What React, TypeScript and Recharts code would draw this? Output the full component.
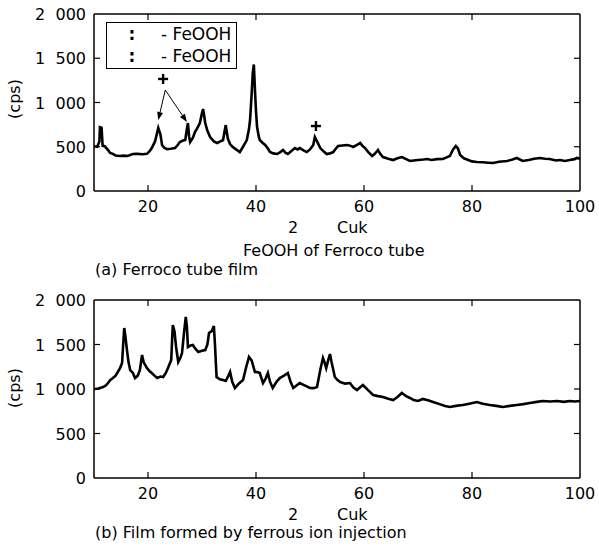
import { LineChart, Line, XAxis, YAxis, ReferenceLine, ReferenceDot } from "recharts";

const xTicks = [20, 40, 60, 80, 100];
const yTicks = [0, 500, 1000, 1500, 2000];
const yTickText: Record<number, string> = { 0: "0", 500: "500", 1000: "1\u2007000", 1500: "1\u2007500", 2000: "2\u2007000" };

// (a) Ferroco tube film
const filmA2Theta = [
  10, 10.6, 11.0, 11.1, 11.4, 11.6, 12, 12.5, 13, 13.5, 14, 14.8, 15.5, 16.2, 17.2, 18, 19, 19.8, 20.3, 20.7,
  21.3, 21.9, 22.3, 22.6, 23, 23.5, 24.2, 25, 25.5, 25.9, 26.5, 26.9, 27.2, 27.4, 27.6, 27.8, 28.3, 28.7, 29.2, 29.6,
  30.0, 30.2, 30.4, 30.6, 31, 31.5, 32.2, 32.8, 33.4, 33.9, 34.2, 34.4, 34.6, 34.8, 35.2, 35.7, 36.3, 37, 37.6, 38.3,
  38.7, 38.9, 39.2, 39.4, 39.6, 39.8, 40, 40.2, 40.5, 40.7, 41.2, 41.7, 42.2, 42.6, 43.2, 43.9, 44.5, 45, 45.5, 45.9,
  46.5, 47.2, 47.7, 48.1, 48.8, 49.4, 50, 50.6, 50.9, 51.3, 51.9, 52.5, 53.1, 53.7, 54.3, 54.8, 55.2, 56, 56.9, 57.5,
  58, 58.7, 59.3, 59.7, 60.2, 60.8, 61.5, 62, 62.6, 63, 63.5, 64.5, 65.4, 66.2, 67, 67.8, 68.5, 69.2, 70, 71,
  71.7, 72.5, 73.5, 74.6, 75.3, 75.9, 76.5, 77, 77.4, 77.8, 78.5, 79.3, 80, 80.9, 82, 83, 83.9, 85, 86.5, 87.5,
  88.3, 89.4, 90.5, 91.5, 92.6, 93.5, 94.4, 95.5, 96.3, 97.2, 98.1, 99, 99.4, 100,
];
const filmACps = [
  505, 500, 560, 720, 715, 510, 505, 470, 430, 420, 400, 395, 400, 395, 418, 420, 415, 420, 450, 485,
  560, 712, 640, 520, 490, 474, 478, 485, 520, 553, 570, 576, 700, 768, 620, 553, 600, 666, 720, 768,
  880, 926, 850, 768, 680, 610, 560, 542, 560, 576, 680, 745, 660, 588, 530, 497, 470, 440, 500, 576,
  700, 802, 1100, 1330, 1430, 1150, 900, 723, 620, 576, 545, 520, 480, 440, 425, 418, 440, 463, 430, 418,
  450, 485, 470, 485, 460, 440, 470, 520, 610, 560, 485, 450, 418, 425, 440, 480, 508, 515, 520, 510,
  497, 520, 542, 510, 485, 440, 395, 420, 463, 420, 384, 365, 350, 370, 384, 360, 339, 345, 350, 355,
  362, 350, 360, 362, 380, 395, 470, 508, 480, 407, 370, 350, 335, 328, 325, 320, 316, 330, 339, 355,
  373, 339, 350, 365, 373, 365, 362, 345, 350, 340, 350, 360, 373, 365,
];

// (b) Film formed by ferrous ion injection
const filmB2Theta = [
  10, 10.8, 11.7, 12.2, 12.6, 13, 13.5, 14, 14.4, 14.8, 15.2, 15.4, 15.6, 15.8, 16.1, 16.4, 16.7, 17.2, 17.6, 18.1,
  18.5, 18.9, 19.2, 19.8, 20.3, 20.7, 21.2, 21.7, 22.3, 22.8, 23.3, 23.7, 24.3, 24.5, 24.6, 24.9, 25.2, 25.6, 26, 26.3,
  26.7, 27, 27.2, 27.4, 27.9, 28.3, 28.8, 29.3, 30, 30.6, 31.0, 31.3, 31.8, 32.2, 32.4, 32.7, 33.3, 33.9, 34.4, 34.9,
  35.2, 35.6, 36.1, 36.8, 37.6, 38.2, 38.7, 39.2, 39.8, 40.3, 40.7, 41.3, 41.8, 42.2, 42.6, 43.1, 43.8, 44.4, 45.2, 45.9,
  46.4, 46.9, 47.5, 48.1, 49, 50, 50.7, 51.3, 51.9, 52.4, 52.7, 53, 53.4, 53.7, 54, 54.6, 55.1, 55.6, 56.5, 57.4,
  58, 58.7, 59.3, 59.8, 60.7, 61.7, 62.6, 63.5, 64.5, 65.4, 66.2, 67, 67.8, 68.5, 69.2, 70, 70.9, 72, 72.8, 74,
  75, 75.9, 77, 78.3, 79.5, 80.9, 82, 83.3, 84.5, 85.7, 87, 88.3, 89.5, 90.7, 92, 93.1, 94.5, 95.7, 97, 98.1,
  99, 100,
];
const filmBCps = [
  1000, 1005, 1022, 1040, 1067, 1100, 1123, 1150, 1191, 1230, 1292, 1500, 1685, 1600, 1438, 1300, 1213, 1180, 1123, 1150,
  1213, 1382, 1300, 1236, 1200, 1180, 1150, 1123, 1140, 1135, 1180, 1236, 1326, 1600, 1719, 1650, 1472, 1303, 1350, 1404,
  1650, 1809, 1700, 1472, 1490, 1494, 1450, 1416, 1430, 1438, 1500, 1629, 1650, 1708, 1500, 1135, 1110, 1101, 1090, 1150,
  1191, 1080, 1011, 1060, 1101, 1250, 1360, 1320, 1191, 1190, 1180, 1067, 1120, 1180, 1080, 1011, 1080, 1123, 1150, 1180,
  1080, 1011, 1040, 1067, 1040, 1011, 1010, 1022, 1213, 1348, 1300, 1236, 1330, 1393, 1300, 1135, 1100, 1078, 1060, 1067,
  1020, 989, 1020, 1045, 990, 933, 920, 910, 890, 876, 910, 955, 920, 899, 875, 865, 888, 870, 854, 830,
  810, 798, 810, 820, 835, 854, 835, 820, 810, 798, 810, 820, 830, 843, 855, 865, 860, 865, 855, 865,
  860, 865,
];

const FONT = "'DejaVu Sans', sans-serif";
const FS = 16;

const BottomTick = ({ x, y, payload }: any) => (
  <g>
    {payload.value < 100 && <line x1={x} y1={y} x2={x} y2={y - 6} stroke="#000" strokeWidth={1.2} />}
    <text x={x} y={y + 21} textAnchor="middle" fontSize={FS} fontFamily={FONT} fill="#000">{payload.value}</text>
  </g>
);
const TopTick = ({ x, y, payload }: any) =>
  payload.value < 100 ? <line x1={x} y1={y} x2={x} y2={y + 6} stroke="#000" strokeWidth={1.2} /> : <g />;
const LeftTick = ({ x, y, payload }: any) => (
  <g>
    {payload.value > 0 && payload.value < 2000 && <line x1={x} y1={y} x2={x + 6} y2={y} stroke="#000" strokeWidth={1.2} />}
    <text x={x - 8} y={y + 6} textAnchor="end" fontSize={FS} fontFamily={FONT} fill="#000">{yTickText[payload.value]}</text>
  </g>
);
const RightTick = ({ x, y, payload }: any) =>
  payload.value > 0 && payload.value < 2000 ? <line x1={x} y1={y} x2={x - 6} y2={y} stroke="#000" strokeWidth={1.2} /> : <g />;

const Arrow = (p: any) => {
  const { x1, y1, x2, y2 } = p;
  const a = Math.atan2(y2 - y1, x2 - x1);
  const L = 8, W = 3;
  const bx = x2 - L * Math.cos(a), by = y2 - L * Math.sin(a);
  const pts = `${x2},${y2} ${bx + W * Math.sin(a)},${by - W * Math.cos(a)} ${bx - W * Math.sin(a)},${by + W * Math.cos(a)}`;
  return (
    <g>
      <line x1={x1} y1={y1} x2={bx} y2={by} stroke="#000" strokeWidth={1} />
      <polygon points={pts} fill="#000" />
    </g>
  );
};

const Plus = ({ cx, cy }: any) => (
  <g stroke="#000" strokeWidth={2.4}>
    <line x1={cx - 5} y1={cy} x2={cx + 5} y2={cy} />
    <line x1={cx} y1={cy - 5} x2={cx} y2={cy + 5} />
  </g>
);

const axisLine = { stroke: "#000", strokeWidth: 1.5 };

function Panel({ rows, height, children }: { rows: { t: number; cps: number }[]; height: number; children?: any }) {
  return (
    <LineChart width={599} height={height} data={rows} margin={{ top: 13, right: 18, bottom: 0, left: 44 }}>
      <XAxis xAxisId="b" dataKey="t" type="number" domain={[10, 100]} ticks={xTicks} height={24}
        tickSize={0} tickMargin={0} tick={BottomTick} axisLine={axisLine} tickLine={false} allowDataOverflow />
      <XAxis xAxisId="t" orientation="top" dataKey="t" type="number" domain={[10, 100]} ticks={xTicks} height={1}
        tickSize={0} tickMargin={0} tick={TopTick} axisLine={axisLine} tickLine={false} allowDataOverflow />
      <YAxis yAxisId="l" type="number" domain={[0, 2000]} ticks={yTicks} width={50}
        tickSize={0} tickMargin={0} tick={LeftTick} axisLine={axisLine} tickLine={false} allowDataOverflow />
      <YAxis yAxisId="r" orientation="right" type="number" domain={[0, 2000]} ticks={yTicks} width={1}
        tickSize={0} tickMargin={0} tick={RightTick} axisLine={axisLine} tickLine={false} allowDataOverflow />
      <Line xAxisId="b" yAxisId="l" dataKey="cps" type="linear" stroke="#000" strokeWidth={2.6}
        strokeLinejoin="miter" dot={false} isAnimationActive={false} />
      {children}
    </LineChart>
  );
}

export default function App() {
  const rowsA = filmA2Theta.map((t, i) => ({ t, cps: filmACps[i] }));
  const rowsB = filmB2Theta.map((t, i) => ({ t, cps: filmBCps[i] }));
  return (
    <div style={{ position: "absolute", left: 0, top: 0, width: 599, height: 546, background: "#fff", fontFamily: FONT }}>
      <div style={{ position: "absolute", left: 0, top: 0 }}>
        <Panel rows={rowsA} height={215}>
          <ReferenceLine xAxisId="b" yAxisId="l" segment={[{ x: 23.2, y: 1141 }, { x: 21.9, y: 802 }]} shape={Arrow} ifOverflow="visible" />
          <ReferenceLine xAxisId="b" yAxisId="l" segment={[{ x: 23.2, y: 1141 }, { x: 27.2, y: 780 }]} shape={Arrow} ifOverflow="visible" />
          <ReferenceDot xAxisId="b" yAxisId="l" x={22.8} y={1266} r={0} shape={Plus} ifOverflow="visible" />
          <ReferenceDot xAxisId="b" yAxisId="l" x={51.1} y={734} r={0} shape={Plus} ifOverflow="visible" />
        </Panel>
      </div>
      <div style={{ position: "absolute", left: 0, top: 286 }}>
        <Panel rows={rowsB} height={216} />
      </div>
      <div style={{ position: "absolute", left: 106, top: 22, width: 129, height: 45, border: "1px solid #000", background: "#fff" }} />
      <svg width={599} height={546} style={{ position: "absolute", left: 0, top: 0, pointerEvents: "none" }}
        fontFamily={FONT} fontSize={FS} fill="#000">
        <text x={132} y={40} textAnchor="middle" fontSize={17} fontWeight="bold">:</text>
        <text x={161} y={40} fontSize={17}>- FeOOH</text>
        <text x={132} y={62} textAnchor="middle" fontSize={17} fontWeight="bold">:</text>
        <text x={161} y={62} fontSize={17}>- FeOOH</text>
        <text transform="translate(20,99) rotate(-90)" textAnchor="middle">(cps)</text>
        <text transform="translate(20,388) rotate(-90)" textAnchor="middle">(cps)</text>
        <text x={293} y={233} textAnchor="middle">2</text>
        <text x={337} y={233}>Cuk</text>
        <text x={243} y={256}>FeOOH of Ferroco tube</text>
        <text x={95} y={275}>(a) Ferroco tube film</text>
        <text x={293} y={520} textAnchor="middle">2</text>
        <text x={337} y={520}>Cuk</text>
        <text x={95} y={538}>(b) Film formed by ferrous ion injection</text>
      </svg>
    </div>
  );
}
